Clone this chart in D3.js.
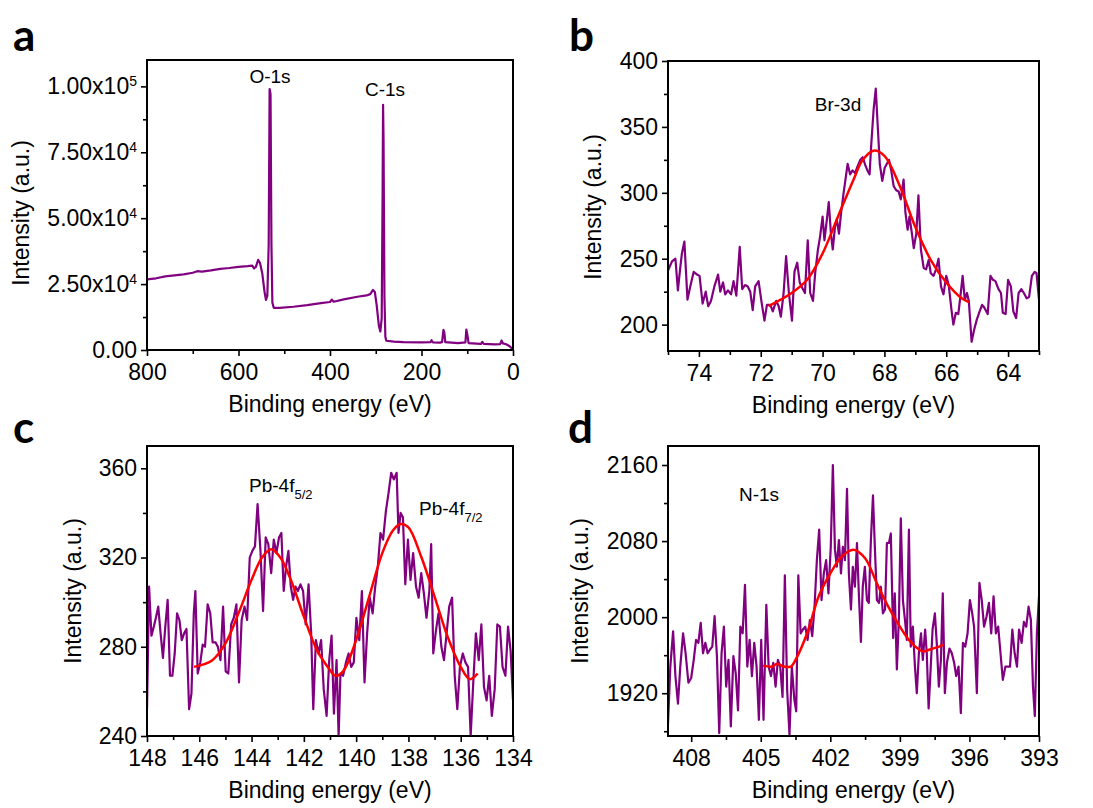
<!DOCTYPE html>
<html>
<head>
<meta charset="utf-8">
<script src="https://cdn.jsdelivr.net/npm/d3@7"></script>
<style>
body { margin: 0; background: #fff; }
svg { display: block; }
text { font-family: "Liberation Sans", Arial, sans-serif; fill: #000; }
</style>
</head>
<body>
<div id="chart"></div>
<script>
// ---- data: [binding energy (eV), intensity] ----

// a: survey scan
var surveyScan = [
  [800, 26800], [780, 27200], [760, 27900], [740, 28300], [720, 28700], [700, 29300],
  [690, 29900], [680, 29700], [660, 30200], [640, 30800], [620, 31100], [600, 31500],
  [580, 31800], [570, 32000], [566, 31000], [562, 31500], [557, 34200], [553, 33000],
  [548, 29000], [543, 22000], [540, 19000], [537, 20500], [534, 40000], [532, 99000],
  [530, 97000], [528, 40000], [526, 18000], [523, 16000], [510, 16000], [480, 16400],
  [450, 17000], [420, 17800], [400, 18200], [396, 19100], [392, 18300], [370, 19200],
  [340, 20200], [320, 20700], [312, 21200], [306, 22800], [302, 22000], [298, 17000],
  [293, 9000], [290, 7000], [287, 12000], [285, 60000], [284, 93000], [283, 80000],
  [281, 20000], [279, 5000], [277, 3500], [260, 3200], [240, 3000], [200, 2900],
  [180, 3000], [178, 3700], [175, 2900], [160, 2800], [155, 3000], [152, 7600],
  [150, 6500], [148, 3000], [120, 2600], [104, 2900], [102, 7700], [100, 6000],
  [97, 2600], [80, 2400], [70, 2300], [67, 3100], [64, 2300], [40, 2100], [28, 2200],
  [25, 3600], [22, 2500], [15, 2200], [8, 1500], [3, 700], [0, 0]
];

// b: Br-3d scan and fit
var brScan = [
  [75.0,241],[74.87,248],[74.76,250],[74.68,226],[74.6,244],[74.55,254],[74.47,263],[74.37,219],
  [74.28,229],[74.17,240],[74.06,238],[73.98,237],[73.88,216],[73.78,225],[73.7,214],[73.61,218],
  [73.5,229],[73.38,238],[73.31,225],[73.22,232],[73.15,223],[73.06,226],[72.96,223],[72.88,233],
  [72.79,222],[72.68,259],[72.6,227],[72.51,230],[72.42,229],[72.34,225],[72.26,211],[72.18,229],
  [72.07,233],[71.98,218],[71.88,203],[71.8,215],[71.69,215],[71.61,210],[71.5,218],[71.42,214],
  [71.35,206],[71.26,224],[71.18,252],[71.09,224],[70.99,203],[70.91,240],[70.82,247],[70.74,232],
  [70.66,228],[70.57,224],[70.48,264],[70.4,224],[70.31,218],[70.24,239],[70.15,257],[70.08,267],
  [70.0,282],[69.94,264],[69.86,280],[69.8,293],[69.73,269],[69.67,257],[69.6,274],[69.54,280],
  [69.47,269],[69.4,285],[69.32,300],[69.26,310],[69.19,322],[69.11,314],[69.03,317],[68.95,315],
  [68.87,320],[68.78,325],[68.7,327],[68.62,321],[68.55,317],[68.48,314],[68.43,335],[68.35,363],
  [68.28,379],[68.21,348],[68.15,322],[68.07,309],[67.99,319],[67.92,322],[67.85,325],[67.78,317],
  [67.7,305],[67.62,302],[67.54,301],[67.47,295],[67.38,310],[67.32,285],[67.25,272],[67.19,282],
  [67.11,269],[67.05,258],[66.97,269],[66.9,298],[66.82,257],[66.73,243],[66.65,242],[66.57,249],
  [66.5,239],[66.41,237],[66.33,242],[66.25,250],[66.17,229],[66.09,223],[66.0,237],[65.92,230],
  [65.83,211],[65.77,200],[65.69,209],[65.61,208],[65.53,224],[65.47,237],[65.4,219],[65.33,224],
  [65.27,218],[65.18,187],[65.1,196],[65.01,204],[64.92,210],[64.84,215],[64.77,213],[64.66,208],
  [64.57,237],[64.49,234],[64.41,233],[64.31,227],[64.23,224],[64.17,209],[64.08,208],[64.0,234],
  [63.91,229],[63.83,210],[63.74,205],[63.66,224],[63.57,227],[63.49,224],[63.4,220],[63.32,221],
  [63.23,237],[63.14,240],[63.08,239],[63.0,219]
];
var brFit = [
  [71.75,214],[71.0,224],[70.5,234],[70.0,254],[69.5,282],[69.0,310],[68.7,325],[68.35,332],
  [68.0,328],[67.5,305],[67.0,274],[66.5,249],[66.0,232],[65.5,220],[65.25,217]
];

// c: Pb-4f scan and fit
var pbScan = [
  [148,252],[147.92,307],[147.83,285],[147.74,289],[147.66,293],[147.57,298],[147.48,286],[147.39,275],
  [147.3,289],[147.21,301],[147.12,267],[147.03,267],[146.94,277],[146.85,295],[146.76,292],[146.67,283],
  [146.58,286],[146.49,288],[146.39,252],[146.3,259],[146.21,295],[146.15,305],[146.06,268],[145.96,273],
  [145.87,281],[145.78,280],[145.68,299],[145.58,295],[145.49,282],[145.38,282],[145.29,280],[145.19,274],
  [145.09,298],[144.99,269],[144.89,268],[144.78,290],[144.68,293],[144.58,299],[144.48,264],[144.38,292],
  [144.27,298],[144.17,292],[144.07,320],[143.97,323],[143.87,325],[143.77,344],[143.66,323],[143.56,296],
  [143.46,329],[143.36,326],[143.25,313],[143.15,328],[143.05,322],[142.95,329],[142.86,331],[142.77,305],
  [142.68,316],[142.59,323],[142.5,307],[142.41,301],[142.32,307],[142.23,305],[142.13,308],[142.03,305],
  [141.93,290],[141.82,308],[141.72,286],[141.64,252],[141.54,283],[141.44,277],[141.34,283],[141.24,261],
  [141.13,249],[141.03,274],[140.94,285],[140.85,250],[140.75,274],[140.67,240],[140.6,268],[140.5,267],
  [140.39,273],[140.29,277],[140.19,271],[140.09,273],[139.99,293],[139.88,283],[139.78,305],[139.68,264],
  [139.58,286],[139.48,302],[139.37,295],[139.27,307],[139.17,316],[139.07,331],[138.97,328],[138.86,341],
  [138.76,349],[138.66,358],[138.56,355],[138.45,358],[138.38,331],[138.3,340],[138.21,338],[138.12,308],
  [138.02,328],[137.92,310],[137.82,322],[137.71,307],[137.61,302],[137.51,313],[137.41,304],[137.31,293],
  [137.2,305],[137.13,326],[137.05,277],[136.95,287],[136.85,295],[136.74,280],[136.64,274],[136.54,286],
  [136.44,298],[136.33,302],[136.23,267],[136.13,252],[136.03,271],[135.92,277],[135.82,273],[135.72,271],
  [135.62,240],[135.52,264],[135.42,286],[135.31,274],[135.21,290],[135.11,262],[135.01,256],[134.91,267],
  [134.81,249],[134.7,261],[134.6,290],[134.5,289],[134.4,271],[134.29,267],[134.19,289],[134.09,278],
  [134.0,256]
];
var pbFit = [
  [146.2,271],[145.5,274],[145.0,281.5],[144.5,295],[144.0,310],[143.6,320],[143.25,323.7],[142.9,320],
  [142.5,310],[142.0,293.5],[141.5,278.5],[141.0,269.6],[140.8,267],[140.5,269],[140.0,283],[139.5,302.5],
  [139.0,322],[138.6,332],[138.3,335],[138.0,333.5],[137.5,320],[137.0,302.5],[136.5,284.5],[136.0,271],
  [135.65,265.5],[135.35,268]
];

// d: N-1s scan and fit
var nScan = [
  [409,1888],[408.9,1948],[408.78,1985],[408.68,1938],[408.57,1909],[408.47,1948],[408.35,1983],[408.24,1962],
  [408.12,1931],[408.0,1936],[407.89,1955],[407.79,1976],[407.69,1973],[407.59,1994],[407.49,1962],[407.39,1973],
  [407.29,1962],[407.19,1966],[407.09,1969],[406.99,2001],[406.89,1959],[406.79,1878],[406.69,1962],[406.59,1990],
  [406.49,1927],[406.39,1955],[406.29,1885],[406.18,1959],[406.08,1941],[405.98,1902],[405.88,1990],[405.78,1983],
  [405.68,2034],[405.58,1948],[405.48,1976],[405.38,1938],[405.28,1973],[405.18,1948],[405.08,1892],[404.98,1976],
  [404.88,1892],[404.76,2013],[404.66,1948],[404.56,1938],[404.46,1952],[404.36,1927],[404.26,1955],[404.16,1948],
  [404.06,1916],[403.96,2044],[403.86,1923],[403.76,1876],[403.66,1948],[403.55,1913],[403.47,1901],[403.38,2044],
  [403.28,1983],[403.18,1987],[403.08,1990],[402.98,1976],[402.88,1997],[402.78,1980],[402.68,2011],[402.58,2060],
  [402.48,2092],[402.38,2018],[402.28,2046],[402.18,2060],[402.08,2025],[401.98,2074],[401.89,2160],[401.8,2071],
  [401.72,2053],[401.63,2081],[401.54,2046],[401.46,2074],[401.37,2060],[401.28,2135],[401.2,2046],[401.11,2008],
  [401.03,2053],[400.94,2032],[400.85,2078],[400.77,2025],[400.68,1974],[400.6,2032],[400.51,2053],[400.42,2018],
  [400.34,2015],[400.25,2081],[400.16,2128],[400.08,2074],[399.99,2018],[399.9,2015],[399.82,2032],[399.73,2004],
  [399.64,2008],[399.56,2078],[399.47,2078],[399.39,2088],[399.29,1978],[399.22,2025],[399.13,1945],[399.04,2001],
  [398.96,2104],[398.87,2018],[398.78,1997],[398.7,1976],[398.61,2092],[398.53,1969],[398.44,1990],[398.35,1948],
  [398.27,1920],[398.18,1962],[398.09,1983],[398.01,1955],[397.91,1987],[397.84,1962],[397.76,1904],[397.69,1937],
  [397.59,1987],[397.49,2004],[397.41,1973],[397.32,1927],[397.23,1955],[397.15,2025],[397.06,1920],[396.97,1952],
  [396.86,1967],[396.76,1962],[396.66,1952],[396.57,1938],[396.47,1948],[396.37,1899],[396.28,1973],[396.18,1969],
  [396.08,1983],[395.98,2018],[395.88,2004],[395.8,1990],[395.68,1920],[395.57,2036],[395.47,2018],[395.37,1990],
  [395.26,2001],[395.16,2015],[395.06,1983],[394.96,2022],[394.86,1983],[394.76,1990],[394.66,1962],[394.56,1934],
  [394.45,1948],[394.35,1948],[394.25,1948],[394.15,1987],[394.05,1962],[393.95,1948],[393.86,1987],[393.75,1973],
  [393.65,1995],[393.55,1990],[393.45,2011],[393.35,1997],[393.26,1927],[393.18,1896],[393.09,1983],[393.0,2022]
];
var nFit = [
  [404.9,1949],[404.5,1948],[404.3,1951],[404.0,1948],[403.7,1948],[403.5,1955],[403.0,1983],[402.5,2022],
  [402.0,2046],[401.5,2064],[401.0,2071],[400.5,2062],[400.0,2036],[399.5,2011],[399.0,1990],[398.5,1973],
  [398.0,1964],[397.7,1966],[397.3,1969],[397.1,1971]
];

// tick values
var surveyXMajor = [800, 600, 400, 200, 0], surveyXMinor = [700, 500, 300, 100];
var surveyYMajor = [0, 25000, 50000, 75000, 100000], surveyYMinor = [12500, 37500, 62500, 87500];
var brXMajor = [74, 72, 70, 68, 66, 64], brXMinor = [75, 73, 71, 69, 67, 65, 63];
var brYMajor = [200, 250, 300, 350, 400], brYMinor = [225, 275, 325, 375];
var pbXMajor = [148, 146, 144, 142, 140, 138, 136, 134], pbXMinor = [147, 145, 143, 141, 139, 137, 135];
var pbYMajor = [240, 280, 320, 360], pbYMinor = [260, 300, 340];
var nXMajor = [408, 405, 402, 399, 396, 393], nXMinor = [406.5, 403.5, 400.5, 397.5, 394.5];
var nYMajor = [1920, 2000, 2080, 2160], nYMinor = [1880, 1960, 2040, 2120];

var purple = "#800080", red = "#ff0000";

var svg = d3.select("#chart").append("svg")
    .attr("width", 1093)
    .attr("height", 808);

var panels = [
  { id: "a", letter: [13, 51], left: 147, right: 513, top: 60, bottom: 350,
    xDomain: [800, 0], yDomain: [0, 110000],
    xMajor: surveyXMajor, xMinor: surveyXMinor, yMajor: surveyYMajor, yMinor: surveyYMinor,
    sci: true, scan: surveyScan, fit: null, ytitle: [29, 213], lineWidth: 2.2,
    notes: [{ text: "O-1s", x: 270, y: 83 }, { text: "C-1s", x: 385, y: 96 }] },
  { id: "b", letter: [569, 51], left: 668, right: 1039, top: 61, bottom: 351,
    xDomain: [75, 63], yDomain: [180, 400],
    xMajor: brXMajor, xMinor: brXMinor, yMajor: brYMajor, yMinor: brYMinor,
    scan: brScan, fit: brFit, ytitle: [601, 207], lineWidth: 2.2,
    notes: [{ text: "Br-3d", x: 838, y: 111 }] },
  { id: "c", letter: [13, 443], left: 147, right: 513, top: 446, bottom: 736,
    xDomain: [148, 134], yDomain: [240, 370],
    xMajor: pbXMajor, xMinor: pbXMinor, yMajor: pbYMajor, yMinor: pbYMinor,
    scan: pbScan, fit: pbFit, ytitle: [81, 591], lineWidth: 2.2,
    notes: [{ text: "Pb-4f", sub: "5/2", x: 249, y: 492 }, { text: "Pb-4f", sub: "7/2", x: 419, y: 515 }] },
  { id: "d", letter: [568, 443], left: 668, right: 1039, top: 446, bottom: 736,
    xDomain: [409, 393], yDomain: [1875, 2180],
    xMajor: nXMajor, xMinor: nXMinor, yMajor: nYMajor, yMinor: nYMinor,
    scan: nScan, fit: nFit, ytitle: [588, 591], lineWidth: 2.2,
    notes: [{ text: "N-1s", x: 759, y: 501 }] }
];

panels.forEach(drawPanel);

function drawPanel(p) {
  var x = d3.scaleLinear().domain(p.xDomain).range([p.left, p.right]);
  var y = d3.scaleLinear().domain(p.yDomain).range([p.bottom, p.top]);
  var g = svg.append("g").attr("class", "panel-" + p.id);

  g.append("clipPath").attr("id", "clip-" + p.id)
    .append("rect")
    .attr("x", p.left).attr("y", p.top)
    .attr("width", p.right - p.left).attr("height", p.bottom - p.top);

  // x axis
  g.append("g").attr("transform", "translate(0," + p.bottom + ")")
    .call(d3.axisBottom(x).tickValues(p.xMinor).tickSize(4).tickFormat(""));
  g.append("g").attr("transform", "translate(0," + p.bottom + ")")
    .call(d3.axisBottom(x).tickValues(p.xMajor).tickSize(6).tickPadding(8)
      .tickFormat(d3.format("d")));

  // y axis
  g.append("g").attr("transform", "translate(" + p.left + ",0)")
    .call(d3.axisLeft(y).tickValues(p.yMinor).tickSize(4).tickFormat(""));
  var ya = g.append("g").attr("transform", "translate(" + p.left + ",0)")
    .call(d3.axisLeft(y).tickValues(p.yMajor).tickSize(6).tickPadding(4)
      .tickFormat(d3.format("d")));

  if (p.sci) {
    ya.selectAll(".tick text").each(function (d) {
      var t = d3.select(this).text("");
      if (d === 0) { t.text("0.00"); return; }
      var e = Math.floor(Math.log10(d));
      var m = d / Math.pow(10, e);
      t.append("tspan").text(m.toFixed(2) + "x10");
      t.append("tspan").attr("dy", "-8").attr("font-size", "14px").text(e);
    });
  }

  g.selectAll(".domain").remove();
  g.selectAll(".tick line").attr("stroke", "#000").attr("stroke-width", 1.6);
  g.selectAll(".tick text")
    .style("font-family", "'Liberation Sans', Arial, sans-serif")
    .style("font-size", "23px")
    .attr("fill", "#000");

  var line = d3.line()
    .x(function (d) { return x(d[0]); })
    .y(function (d) { return y(d[1]); });

  g.append("path")
    .datum(p.scan)
    .attr("clip-path", "url(#clip-" + p.id + ")")
    .attr("fill", "none")
    .attr("stroke", purple)
    .attr("stroke-width", p.lineWidth)
    .attr("stroke-linejoin", "round")
    .attr("d", line);

  if (p.fit) {
    g.append("path")
      .datum(p.fit)
      .attr("fill", "none")
      .attr("stroke", red)
      .attr("stroke-width", 2.5)
      .attr("d", line.curve(d3.curveCatmullRom.alpha(0.5)));
  }

  // frame
  g.append("rect")
    .attr("x", p.left).attr("y", p.top)
    .attr("width", p.right - p.left).attr("height", p.bottom - p.top)
    .attr("fill", "none").attr("stroke", "#000").attr("stroke-width", 2);

  // peak labels
  p.notes.forEach(function (n) {
    var t = g.append("text")
      .attr("x", n.x).attr("y", n.y)
      .attr("text-anchor", n.sub ? "start" : "middle")
      .style("font-size", "19px");
    t.append("tspan").text(n.text);
    if (n.sub) {
      t.append("tspan").attr("dy", "7").style("font-size", "13px").text(n.sub);
    }
  });

  // axis titles
  g.append("text")
    .attr("x", (p.left + p.right) / 2)
    .attr("y", p.bottom + 62)
    .attr("text-anchor", "middle")
    .style("font-size", "23px")
    .text("Binding energy (eV)");

  g.append("text")
    .attr("transform", "translate(" + p.ytitle[0] + "," + p.ytitle[1] + ") rotate(-90)")
    .attr("text-anchor", "middle")
    .style("font-size", "23px")
    .text("Intensity (a.u.)");

  // panel letter
  g.append("text")
    .attr("x", p.letter[0]).attr("y", p.letter[1])
    .style("font-family", "Lato, 'Open Sans', sans-serif")
    .style("font-weight", "bold")
    .style("font-size", "44px")
    .text(p.id);
}
</script>
</body>
</html>
